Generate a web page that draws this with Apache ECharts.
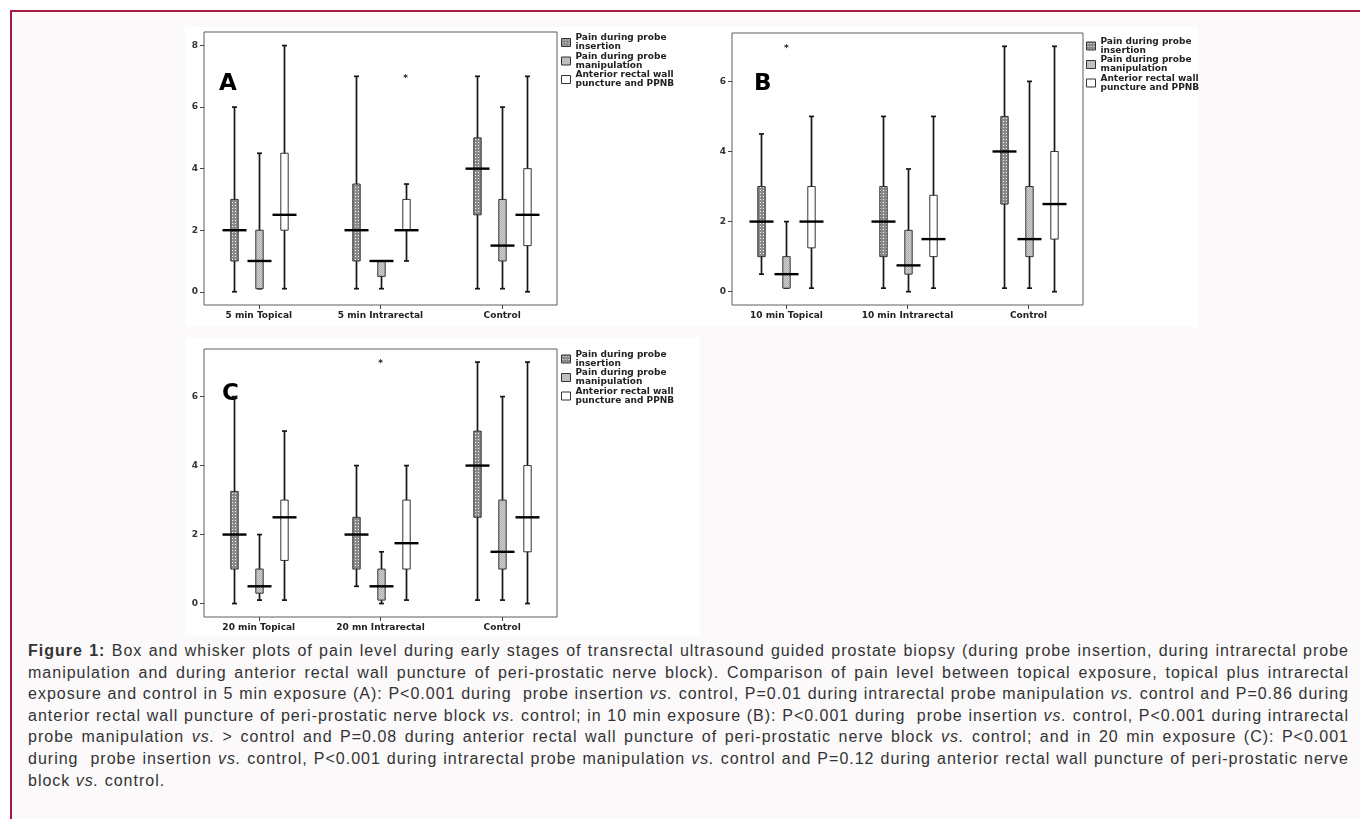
<!DOCTYPE html>
<html>
<head>
<meta charset="utf-8">
<script src="https://cdn.jsdelivr.net/npm/echarts@6/dist/echarts.min.js"></script>
<style>
  html, body { margin: 0; padding: 0; background: #ffffff; }
  #page { position: absolute; left: 10px; top: 10px; width: 1350px; height: 809px;
          background: #fbf9fa; border-left: 2px solid #a8193f; border-top: 2px solid #a8193f; }
  #root { position: absolute; left: 0; top: 0; width: 1360px; height: 640px; }
  #caption { position: absolute; left: 28px; top: 640px; width: 1321px;
             font-family: "Liberation Sans", Arial, sans-serif; font-size: 16px; color: #333; }
  #caption div { white-space: nowrap; height: 21.6px; line-height: 21.6px;
                 text-align: justify; text-align-last: justify; }
  #caption div.last { text-align-last: left; }
</style>
</head>
<body>
<div id="page"></div>
<div id="root"></div>
<div id="caption">
  <div><b>Figure 1:</b> Box and whisker plots of pain level during early stages of transrectal ultrasound guided prostate biopsy (during probe insertion, during intrarectal probe</div>
  <div>manipulation and during anterior rectal wall puncture of peri-prostatic nerve block). Comparison of pain level between topical exposure, topical plus intrarectal</div>
  <div id="tight">exposure and control in 5 min exposure (A): P&lt;0.001 during&nbsp; probe insertion <i>vs.</i> control, P=0.01 during intrarectal probe manipulation <i>vs.</i> control and P=0.86 during</div>
  <div>anterior rectal wall puncture of peri-prostatic nerve block <i>vs.</i> control; in 10 min exposure (B): P&lt;0.001 during&nbsp; probe insertion <i>vs.</i> control, P&lt;0.001 during intrarectal</div>
  <div>probe manipulation <i>vs.</i> &gt; control and P=0.08 during anterior rectal wall puncture of peri-prostatic nerve block <i>vs.</i> control; and in 20 min exposure (C): P&lt;0.001</div>
  <div>during&nbsp; probe insertion <i>vs.</i> control, P&lt;0.001 during intrarectal probe manipulation <i>vs.</i> control and P=0.12 during anterior rectal wall puncture of peri-prostatic nerve</div>
  <div class="last">block <i>vs.</i> control.</div>
</div>
<script>
// 分组名称
var categoriesA = ['5 min Topical', '5 min Intrarectal', 'Control'];
var categoriesB = ['10 min Topical', '10 min Intrarectal', 'Control'];
var categoriesC = ['20 min Topical', '20 mn Intrarectal', 'Control'];
// 系列名称 / 图例文字
var seriesNames = ['Pain during probe insertion', 'Pain during probe manipulation', 'Anterior rectal wall puncture and PPNB'];
var legendLabels = ['Pain during probe\ninsertion', 'Pain during probe\nmanipulation', 'Anterior rectal wall\npuncture and PPNB'];
// y轴刻度
var yTicksA = [0, 2, 4, 6, 8];
var yTicksBC = [0, 2, 4, 6];

// 每个箱子: [min, Q1, median, Q3, max]
var insertionA    = [[0, 1, 2, 3, 6], [0.1, 1, 2, 3.5, 7], [0.1, 2.5, 4, 5, 7]];
var manipulationA = [[0.1, 0.1, 1, 2, 4.5], [0.1, 0.5, 1, 1, 1], [0.1, 1, 1.5, 3, 6]];
var punctureA     = [[0.1, 2, 2.5, 4.5, 8], [1, 2, 2, 3, 3.5], [0, 1.5, 2.5, 4, 7]];
var insertionB    = [[0.5, 1, 2, 3, 4.5], [0.1, 1, 2, 3, 5], [0.1, 2.5, 4, 5, 7]];
var manipulationB = [[0.1, 0.1, 0.5, 1, 2], [0, 0.5, 0.75, 1.75, 3.5], [0.1, 1, 1.5, 3, 6]];
var punctureB     = [[0.1, 1.25, 2, 3, 5], [0.1, 1, 1.5, 2.75, 5], [0, 1.5, 2.5, 4, 7]];
var insertionC    = [[0, 1, 2, 3.25, 6], [0.5, 1, 2, 2.5, 4], [0.1, 2.5, 4, 5, 7]];
var manipulationC = [[0.1, 0.3, 0.5, 1, 2], [0, 0.1, 0.5, 1, 1.5], [0.1, 1, 1.5, 3, 6]];
var punctureC     = [[0.1, 1.25, 2.5, 3, 5], [0.1, 1, 1.75, 3, 4], [0, 1.5, 2.5, 4, 7]];
// 离群点: [分组序号, 系列序号, 数值]
var outliersA = [[1, 2, 7]];
var outliersB = [[0, 1, 7]];
var outliersC = [[1, 1, 7]];

var FONT = '"DejaVu Sans", Verdana, sans-serif';

// 说明文字: 按最紧的一行调整字距
(function () {
    var tight = document.getElementById('tight');
    tight.style.display = 'inline-block';
    var w = tight.offsetWidth;
    tight.style.display = '';
    var n = tight.textContent.length;
    var ls = (1316 - w) / n;
    document.getElementById('caption').style.letterSpacing = ls.toFixed(3) + 'px';
})();

// 填充纹理
function makePattern(kind) {
    var c = document.createElement('canvas');
    var ctx = c.getContext('2d');
    if (kind === 0) {
        c.width = 3; c.height = 3;
        ctx.fillStyle = '#8a8a8a'; ctx.fillRect(0, 0, 3, 3);
        ctx.fillStyle = '#f4f4f4';
        ctx.fillRect(1, 1, 1, 1);
    } else if (kind === 1) {
        c.width = 2; c.height = 2;
        ctx.fillStyle = '#cfcfcf'; ctx.fillRect(0, 0, 2, 2);
        ctx.fillStyle = '#b0b0b0';
        ctx.fillRect(0, 0, 1, 1); ctx.fillRect(1, 1, 1, 1);
    } else {
        c.width = 2; c.height = 2;
        ctx.fillStyle = '#ffffff'; ctx.fillRect(0, 0, 2, 2);
    }
    return { image: c, repeat: 'repeat' };
}
var patterns = [makePattern(0), makePattern(1), makePattern(2)];

function boxRender(k) {
    return function (params, api) {
        var x = api.value(0);
        var lo = api.coord([x, api.value(1)]);
        var q1 = api.coord([x, api.value(2)]);
        var med = api.coord([x, api.value(3)]);
        var q3 = api.coord([x, api.value(4)]);
        var hi = api.coord([x, api.value(5)]);
        var cx = Math.round(lo[0] + (k - 1) * 25) + 0.5;
        var line = { stroke: '#161616', lineWidth: 1.7 };
        return {
            type: 'group',
            children: [
                { type: 'line', shape: { x1: cx, y1: hi[1], x2: cx, y2: lo[1] }, style: line },
                { type: 'line', shape: { x1: cx - 2.5, y1: hi[1], x2: cx + 2.5, y2: hi[1] }, style: line },
                { type: 'line', shape: { x1: cx - 2.5, y1: lo[1], x2: cx + 2.5, y2: lo[1] }, style: line },
                { type: 'rect', shape: { x: cx - 3.7, y: q3[1], width: 7.4, height: Math.max(q1[1] - q3[1], 0.5) },
                  style: { fill: patterns[k], stroke: '#333', lineWidth: 1 } },
                { type: 'line', shape: { x1: cx - 12, y1: med[1], x2: cx + 12, y2: med[1] },
                  style: { stroke: '#000', lineWidth: 2.4 } }
            ]
        };
    };
}

function outlierRender(params, api) {
    var p = api.coord([api.value(0), api.value(2)]);
    return {
        type: 'text',
        style: { text: '*', x: p[0] + (api.value(1) - 1) * 25, y: p[1] + 2, align: 'center', verticalAlign: 'middle',
                 font: 'bold 9px ' + FONT, fill: '#222' }
    };
}

var panels = [
    { cats: categoriesA, data: [insertionA, manipulationA, punctureA], out: outliersA, ticks: yTicksA, min: -0.43, max: 8.44,
      grid: { left: 204, top: 32, width: 353, height: 273 }, legend: { left: 561, top: 33.5 }, letter: 'A', lx: 219, ly: 73 },
    { cats: categoriesB, data: [insertionB, manipulationB, punctureB], out: outliersB, ticks: yTicksBC, min: -0.38, max: 7.38,
      grid: { left: 732, top: 33, width: 351, height: 272 }, legend: { left: 1086, top: 37 }, letter: 'B', lx: 754, ly: 73 },
    { cats: categoriesC, data: [insertionC, manipulationC, punctureC], out: outliersC, ticks: yTicksBC, min: -0.39, max: 7.38,
      grid: { left: 204, top: 349, width: 353, height: 268 }, legend: { left: 561, top: 350 }, letter: 'C', lx: 222, ly: 383 }
];

var grids = [], xAxes = [], yAxes = [], series = [], legends = [], graphics = [];
var bgRects = [[185, 27, 515, 300], [700, 27, 498, 300], [185, 337, 515, 299]];
bgRects.forEach(function (r) {
    graphics.push({ type: 'rect', z: -10, shape: { x: r[0], y: r[1], width: r[2], height: r[3] }, style: { fill: '#ffffff' } });
});

panels.forEach(function (p, i) {
    grids.push({ left: p.grid.left, top: p.grid.top, width: p.grid.width, height: p.grid.height,
                 show: true, borderColor: '#5e5e5e', borderWidth: 1, backgroundColor: 'transparent' });
    xAxes.push({
        type: 'value', gridIndex: i, min: -0.45, max: 2.45, position: 'bottom',
        splitLine: { show: false }, axisLine: { show: false, onZero: false },
        axisTick: { show: true, length: 4, customValues: [0, 1, 2], lineStyle: { color: '#444' } },
        axisLabel: { customValues: [0, 1, 2], margin: 6, fontFamily: FONT, fontWeight: 'bold', fontSize: 9, color: '#222',
                     formatter: (function (cats) { return function (v) { return cats[Math.round(v)]; }; })(p.cats) }
    });
    yAxes.push({
        type: 'value', gridIndex: i, min: p.min, max: p.max, position: 'left',
        splitLine: { show: false }, axisLine: { show: false, onZero: false },
        axisTick: { show: true, length: 4, customValues: p.ticks, lineStyle: { color: '#444' } },
        axisLabel: { customValues: p.ticks, margin: 6, fontFamily: FONT, fontWeight: 'bold', fontSize: 9, color: '#333' }
    });
    p.data.forEach(function (rows, k) {
        series.push({
            type: 'custom', name: seriesNames[k], xAxisIndex: i, yAxisIndex: i,
            renderItem: boxRender(k),
            itemStyle: { color: patterns[k], borderColor: '#333', borderWidth: 1 },
            encode: { x: 0, y: [1, 2, 3, 4, 5] },
            data: rows.map(function (d, j) { return [j].concat(d); }),
            silent: true, animation: false
        });
    });
    series.push({
        type: 'custom', name: 'outliers' + i, xAxisIndex: i, yAxisIndex: i,
        renderItem: outlierRender, encode: { x: 0, y: 2 }, data: p.out, silent: true, animation: false
    });
    legends.push({
        orient: 'vertical', left: p.legend.left, top: p.legend.top, padding: 0,
        itemWidth: 9, itemHeight: 8, itemGap: 0.5, selectedMode: false,
        icon: 'rect',
        data: seriesNames.map(function (n, k) {
            return { name: n, itemStyle: { color: patterns[k], borderColor: '#333', borderWidth: 1 } };
        }),
        formatter: function (n) { return legendLabels[seriesNames.indexOf(n)]; },
        textStyle: { fontFamily: FONT, fontWeight: 'bold', fontSize: 9, lineHeight: 9, color: '#222' }
    });
    graphics.push({ type: 'text', x: p.lx, y: p.ly,
        style: { text: p.letter, font: 'bold 23px ' + FONT, fill: '#000', verticalAlign: 'alphabetic' } });
});

var myChart = echarts.init(document.getElementById('root'));
myChart.setOption({
    animation: false,
    grid: grids,
    xAxis: xAxes,
    yAxis: yAxes,
    legend: legends,
    graphic: { elements: graphics },
    series: series
});
</script>
</body>
</html>
